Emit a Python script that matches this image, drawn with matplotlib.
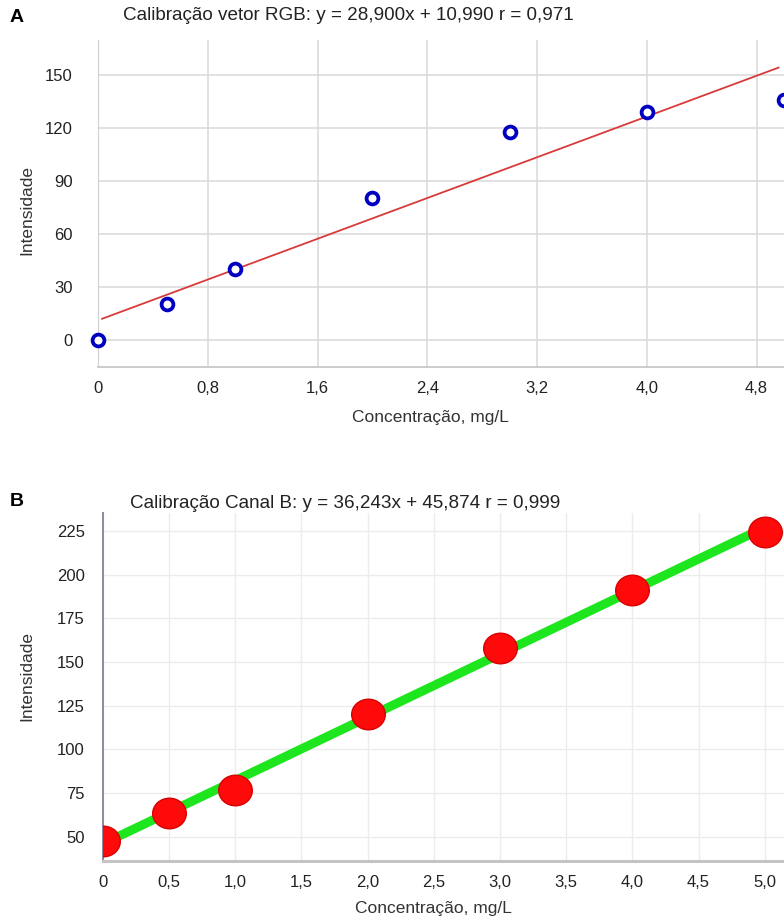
import numpy as np
import matplotlib
matplotlib.use("Agg")
import matplotlib.pyplot as plt
from matplotlib.markers import MarkerStyle
from matplotlib.transforms import Affine2D

plt.rcParams['font.family'] = ['Liberation Sans', 'DejaVu Sans']

# Panel A - vetor RGB
conc_a = [0, 0.5, 1.0, 2.0, 3.0, 4.0, 5.0]
intens_a = [0, 20.2, 40.2, 80.4, 118.0, 129.2, 136.2]
slope_a, intercept_a = 28.900, 10.990
fit_range_a = [0.03, 4.96]
xticks_a = [0, 0.8, 1.6, 2.4, 3.2, 4.0, 4.8]
xticklabels_a = ["0", "0,8", "1,6", "2,4", "3,2", "4,0", "4,8"]
yticks_a = [0, 30, 60, 90, 120, 150]
title_a = "Calibração vetor RGB: y = 28,900x + 10,990 r = 0,971"

# Panel B - canal B
conc_b = [0, 0.5, 1.0, 2.0, 3.0, 4.0, 5.0]
intens_b = [47.5, 63.5, 76.8, 120.2, 158.0, 191.5, 224.5]
slope_b, intercept_b = 36.243, 45.874
fit_range_b = [0, 5.0]
xticks_b = [0, 0.5, 1.0, 1.5, 2.0, 2.5, 3.0, 3.5, 4.0, 4.5, 5.0]
xticklabels_b = ["0", "0,5", "1,0", "1,5", "2,0", "2,5", "3,0", "3,5", "4,0", "4,5", "5,0"]
yticks_b = [50, 75, 100, 125, 150, 175, 200, 225]
title_b = "Calibração Canal B: y = 36,243x + 45,874 r = 0,999"

W, H = 784, 924
fig = plt.figure(figsize=(W / 100, H / 100), dpi=100)


def box(x0, y0, x1, y1):
    # pixel box (top-left origin) -> figure fraction
    return [x0 / W, 1 - y1 / H, (x1 - x0) / W, (y1 - y0) / H]


# ---------- A ----------
ax1 = fig.add_axes(box(98, 40, 784, 367))
ax1.set_xlim(0, 5.0)
ax1.set_ylim(-15.5, 170)
ax1.set_xticks(xticks_a)
ax1.set_xticklabels(xticklabels_a)
ax1.set_yticks(yticks_a)
ax1.grid(True, color="#d8d8d8", linewidth=1.1)
ax1.set_axisbelow(True)
for s in ["top", "right"]:
    ax1.spines[s].set_visible(False)
ax1.spines["left"].set_color("#d0d0d0")
ax1.spines["bottom"].set_color("#c8c8c8")
ax1.spines["bottom"].set_linewidth(1.3)
ax1.tick_params(length=0, labelsize=12, colors="#222222")
ax1.tick_params(axis="y", pad=18)
ax1.tick_params(axis="x", pad=10)

xf = np.array(fit_range_a)
ax1.plot(xf, slope_a * xf + intercept_a, color="#d83a3a", linewidth=1.3, zorder=3)
ax1.plot(conc_a, intens_a, linestyle="none", marker="o", markersize=8.5,
         markerfacecolor="white", markeredgecolor="#0000c0", markeredgewidth=2.7,
         zorder=4, clip_on=False)

fig.text(10 / W, 1 - 17 / H, "A", fontsize=14, fontweight="bold", va="center", ha="left")
fig.text(123 / W, 1 - 16 / H, title_a, fontsize=13.6, va="center", ha="left", color="#222222")
fig.text(27 / W, 1 - 210 / H, "Intensidade", fontsize=12.5, rotation=90,
         va="center", ha="center", color="#333333")
fig.text(430 / W, 1 - 418 / H, "Concentração, mg/L", fontsize=12.5,
         va="center", ha="center", color="#333333")

# ---------- B ----------
ax2 = fig.add_axes(box(102.7, 513, 784, 861))
ax2.set_xlim(0, 5.145)
ax2.set_ylim(36.1, 235.3)
ax2.set_xticks(xticks_b)
ax2.set_xticklabels(xticklabels_b)
ax2.set_yticks(yticks_b)
ax2.grid(True, color="#ececec", linewidth=1.0)
ax2.set_axisbelow(True)
for s in ["top", "right"]:
    ax2.spines[s].set_visible(False)
ax2.spines["left"].set_color("#8a8aa8")
ax2.spines["left"].set_linewidth(1.4)
ax2.spines["bottom"].set_color("#c4c4c4")
ax2.spines["bottom"].set_linewidth(2.2)
ax2.tick_params(length=0, labelsize=12, colors="#222222")
ax2.tick_params(axis="y", pad=13)
ax2.tick_params(axis="x", pad=10)

xf = np.array(fit_range_b)
ax2.plot(xf, slope_b * xf + intercept_b, color="#1ee61e", linewidth=6.5,
         solid_capstyle="butt", zorder=3)
ell = MarkerStyle("o", transform=Affine2D().scale(1.1, 1.0))
ax2.plot(conc_b, intens_b, linestyle="none", marker=ell, markersize=22,
         markerfacecolor="#ff0a0a", markeredgecolor="#d80000", markeredgewidth=1.0,
         zorder=4)

fig.text(10 / W, 1 - 502 / H, "B", fontsize=14, fontweight="bold", va="center", ha="left")
fig.text(130 / W, 1 - 503 / H, title_b, fontsize=13.6, va="center", ha="left", color="#222222")
fig.text(27 / W, 1 - 676 / H, "Intensidade", fontsize=12.5, rotation=90,
         va="center", ha="center", color="#333333")
fig.text(433 / W, 1 - 908 / H, "Concentração, mg/L", fontsize=12.5,
         va="center", ha="center", color="#333333")

fig.savefig("out.png", dpi=100)
